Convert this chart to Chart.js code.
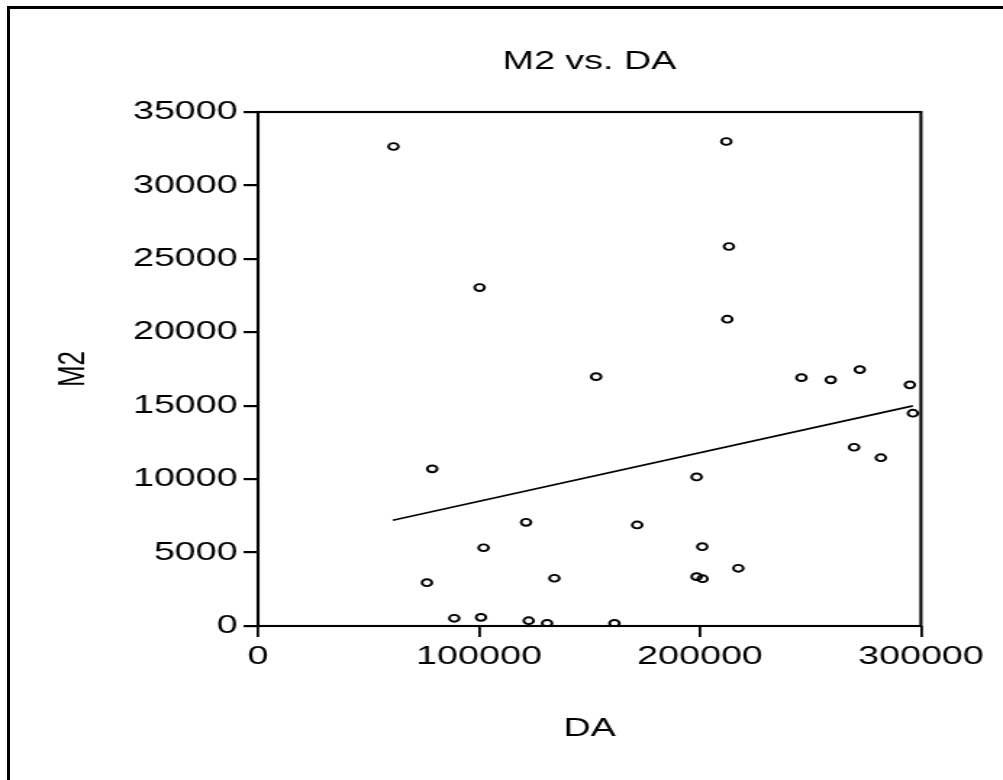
<!DOCTYPE html>
<html>
<head>
<meta charset="utf-8">
<script src="https://cdn.jsdelivr.net/npm/chart.js@4.4.1/dist/chart.umd.min.js"></script>
<style>
  html, body { margin: 0; padding: 0; background: #fff; overflow: hidden; }
  #frame { position: absolute; left: 7px; top: 6px; width: 1200px; height: 1000px; border: 3px solid #000; pointer-events: none; }
</style>
</head>
<body>
<div id="frame"></div>
<canvas id="c" width="692" height="780" style="position:absolute;left:0;top:0;width:1003px;height:780px"></canvas>
<script>
// values
const daValues = [61300, 100270, 211900, 213100, 212370, 153000, 245900, 259170, 272320, 294970,
  296330, 269730, 281830, 198460, 171590, 201040, 217350, 198460, 201180, 134120,
  161300, 130810, 78840, 121300, 102080, 76440, 88810, 100910, 122470];
const m2Values = [32650, 23045, 32990, 25840, 20890, 16980, 16910, 16760, 17460, 16420,
  14490, 12170, 11460, 10150, 6880, 5400, 3930, 3360, 3220, 3250,
  180, 180, 10700, 7060, 5330, 2950, 525, 590, 360];

// fitted line, end points as drawn
const fitDA = [61000, 296300];
const fitM2 = [7200, 14990];

const xTicks = [0, 100000, 200000, 300000];
const yTicks = [0, 5000, 10000, 15000, 20000, 25000, 30000, 35000];

const font = { family: "'Liberation Sans', Arial, sans-serif", size: 26 };

const boxPlugin = {
  id: 'box',
  afterDraw(chart) {
    const { ctx, chartArea: a } = chart;
    ctx.save();
    ctx.strokeStyle = '#000';
    ctx.lineWidth = 2.1;
    ctx.strokeRect(a.left, a.top, a.right - a.left, a.bottom - a.top);
    ctx.restore();
  }
};

new Chart(document.getElementById('c'), {
  type: 'scatter',
  data: {
    datasets: [{
      data: daValues.map((v, i) => ({ x: v, y: m2Values[i] })),
      pointStyle: 'circle',
      pointRadius: 3.4,
      pointBorderWidth: 1.9,
      pointBorderColor: '#000',
      pointBackgroundColor: 'rgba(0,0,0,0)'
    }, {
      type: 'line',
      data: fitDA.map((v, i) => ({ x: v, y: fitM2[i] })),
      borderColor: '#000',
      borderWidth: 1.7,
      pointRadius: 0,
      fill: false
    }]
  },
  options: {
    responsive: false,
    devicePixelRatio: 1,
    animation: false,
    layout: { padding: { left: 0, right: 56.6, top: 0, bottom: 0 } },
    plugins: {
      legend: { display: false },
      tooltip: { enabled: false },
      title: {
        display: true,
        text: 'M2 vs. DA',
        color: '#000',
        font: { ...font, weight: 'normal' },
        fullSize: false,
        padding: { top: 46, bottom: 34.8 }
      }
    },
    scales: {
      x: {
        type: 'linear',
        min: 0,
        max: 300000,
        afterBuildTicks: s => { s.ticks = xTicks.map(v => ({ value: v })); },
        afterFit: s => { s.height = 154; },
        ticks: { color: '#000', font, padding: 4, callback: v => String(v), maxRotation: 0 },
        grid: { drawOnChartArea: false, drawTicks: true, tickLength: 11, tickColor: '#000', lineWidth: 1.8 },
        border: { display: false },
        title: { display: true, text: 'DA', color: '#000', font, padding: { top: 0, bottom: 35.9 } }
      },
      y: {
        type: 'linear',
        min: 0,
        max: 35000,
        afterBuildTicks: s => { s.ticks = yTicks.map(v => ({ value: v })); },
        afterFit: s => { s.width = 178; },
        ticks: { color: '#000', font, padding: 4, callback: v => String(v) },
        grid: { drawOnChartArea: false, drawTicks: true, tickLength: 10, tickColor: '#000', lineWidth: 2.2 },
        border: { display: false },
        title: { display: true, text: 'M2', color: '#000', font, padding: { top: 34.8, bottom: 0 } }
      }
    }
  },
  plugins: [boxPlugin]
});
</script>
</body>
</html>
